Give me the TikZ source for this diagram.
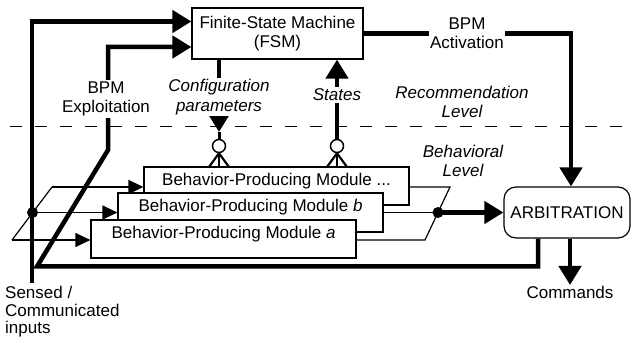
\documentclass[tikz,border=0pt]{standalone}
\usepackage{fontspec}
\setmainfont{Liberation Sans}
\usetikzlibrary{arrows.meta}
\begin{document}
\begin{tikzpicture}[x=1pt,y=-1pt,
 txt/.style={font=\fontsize{17}{19.5}\selectfont, align=center, inner sep=1pt},
 itxt/.style={font=\fontsize{17}{19.5}\selectfont\itshape, align=center, inner sep=1pt},
 lbl/.style={fill=white, inner sep=1.5pt},
 thk/.style={line width=4.5pt},
 thn/.style={line width=1.2pt},
 bigtip/.style={-{Triangle[length=19pt,width=22pt]}},
 smalltip/.style={-{Triangle[length=15pt,width=14pt]}},
 modbox/.style={draw, thn, fill=white, minimum width=265pt, minimum height=38pt, inner sep=0pt},
 dotn/.style={circle, fill=black, minimum size=11pt, inner sep=0pt},
 ring/.style={circle, draw, line width=1.5pt, fill=white, minimum size=13pt, inner sep=0pt},
 fan/.style={line width=2.2pt}]
\path[use as bounding box] (0,0) rectangle (632,339);

% level separator
\coordinate (dsA) at (10,127);
\coordinate (dsB) at (632,127);
\draw[line width=1pt, dash pattern=on 12pt off 13pt] (dsA) -- (dsB);

% main nodes
\node[draw, thn, minimum width=171pt, minimum height=51pt, txt] (fsm) at (277.5,33.5) {Finite-State Machine\\(FSM)};
\node[draw, thn, rounded corners=12pt, minimum width=126pt, minimum height=51pt, txt] (arb) at (567,212.5) {ARBITRATION};

\node[modbox] (bm) at (276.5,186) {};
\node[txt] (bmt) at ([yshift=4.5pt]bm.center) {Behavior-Producing Module ...};
\node[modbox, minimum height=39pt] (bb) at (250.5,212.5) {};
\node[txt] (bbt) at ([yshift=5.5pt]bb.center) {Behavior-Producing Module \textit{b}};
\node[modbox] (ba) at (223.5,239) {};
\node[txt] (bat) at ([yshift=5pt]ba.center) {Behavior-Producing Module \textit{a}};

% coordinates
\coordinate (inB) at (32,283);
\coordinate (inT) at (32,21.5);
\coordinate (pL1) at (12,240);
\coordinate (pL2) at (52,187);
\coordinate (pR1) at (425,240);
\coordinate (pR2) at (450,187);
\coordinate (fbA) at (538,266.5);
\coordinate (fbB) at (37,266.5);
\coordinate (fbC) at (108,150);
\coordinate (fbD) at (108,47);
\coordinate (actC) at (571,33.5);
\coordinate (cmdE) at (570,285);
\coordinate (c1tip) at (219,132);
\coordinate (f1a) at (209,167);
\coordinate (f1b) at (219,167);
\coordinate (f1c) at (229,167);
\coordinate (f2a) at (327,167);
\coordinate (f2b) at (337,167);
\coordinate (f2c) at (347,167);

% input distribution (left)
\draw[thn] (pL1) -- (pL2);
\draw[thn,smalltip] (pL2) -- (pL2 -| bm.west);
\draw[thn,smalltip] (pL1) -- (pL1 -| ba.west);
\node[dotn] (dL) at (32.5,212.5) {};
\draw[thn,smalltip] (dL.center) -- (dL.center -| bb.west);

% output merging (right)
\draw[thn] (bm.east |- pR2) -- (pR2) -- (pR1) -- (ba.east |- pR1);
\node[dotn] (dR) at (438,212.5) {};
\draw[thn] (bb.east) -- (dR.center);
\draw[thk,bigtip] (dR.center) -- (arb.west);

% thick connectors
\draw[thk,bigtip] (inB) -- (inT) -- (inT -| fsm.west);
\draw[thk,bigtip] (arb.south -| fbA) -- (fbA) -- (fbB) -- (fbC) -- (fbD) -- (fbD -| fsm.west);
\draw[thk,bigtip] (fsm.east) -- (actC) -- (actC |- arb.north);
\draw[thk,bigtip] (arb.south -| cmdE) -- (cmdE);

% configuration parameters
\draw[thk,bigtip] (fsm.south -| c1tip) -- (c1tip);
\node[ring] (c1) at (219,146) {};
\draw[line width=3pt] (c1tip) -- (c1.north);
\draw[fan] (c1.south) -- (f1a);
\draw[fan] (c1.south) -- (f1b);
\draw[fan] (c1.south) -- (f1c);

% states
\node[ring] (c2) at (337,146) {};
\draw[thk,bigtip] (c2.north) -- (c2.north |- fsm.south);
\draw[fan] (c2.south) -- (f2a);
\draw[fan] (c2.south) -- (f2b);
\draw[fan] (c2.south) -- (f2c);

% labels
\node[txt,lbl] (lexp) at (106,99) {BPM\\Exploitation};
\node[itxt,lbl] (lcfg) at (219,97) {Configuration\\parameters};
\node[itxt,lbl] (lst) at (337,95) {States};
\node[txt,lbl] (lact) at (467,33) {BPM\\Activation};
\node[itxt] (lrec) at (462,102) {Recommendation\\Level};
\node[itxt] (lbeh) at (463,161) {Behavioral\\Level};
\node[txt,anchor=north] (cmd) at (cmdE) {Commands};
\node[txt,anchor=west,align=left,font=\fontsize{17}{17.5}\selectfont] (lin) at (4,312) {Sensed /\\Communicated\\inputs};
\end{tikzpicture}
\end{document}
